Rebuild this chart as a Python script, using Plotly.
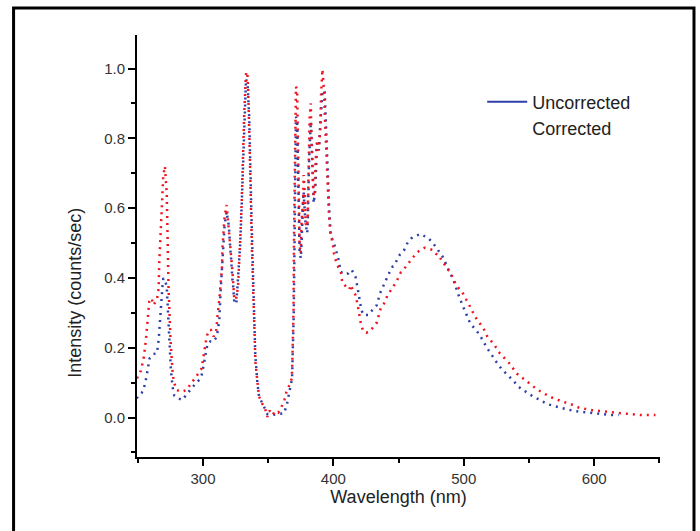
import plotly.graph_objects as go

# ---- data ----
wl_uncorrected = [249.2, 250.9, 252.9, 254.7, 256.2, 257.5, 259.1, 262.0, 264.7, 266.0, 266.4, 267.6, 268.0,
                  269.1, 269.6, 270.8, 272.2, 272.6, 273.7, 274.1, 275.0, 275.4, 276.7, 278.0, 281.0, 284.1,
                  288.2, 290.0, 291.8, 294.5, 297.2, 299.0, 300.5, 302.0, 303.6, 305.5, 307.9, 310.7, 312.1,
                  312.5, 313.5, 314.6, 315.0, 316.2, 316.6, 318.1, 319.5, 319.9, 321.0, 321.4, 322.6, 323.0,
                  323.8, 324.2, 325.6, 327.1, 328.6, 330.0, 331.4, 333.0, 334.3, 335.5, 337.3, 338.9, 340.1,
                  341.7, 343.0, 346.3, 349.4, 353.5, 357.8, 362.2, 364.5, 366.8, 368.3, 369.6, 370.9, 371.3,
                  372.2, 372.6, 373.7, 374.1, 375.0, 375.4, 376.8, 377.2, 378.3, 378.7, 379.9, 380.3, 381.4,
                  381.8, 382.7, 383.1, 384.5, 384.9, 385.8, 386.2, 387.5, 388.8, 390.3, 391.6, 393.3, 394.9,
                  396.2, 396.6, 397.5, 397.9, 400.5, 402.6, 404.1, 405.6, 408.5, 411.5, 412.8, 414.1, 415.4,
                  416.9, 418.4, 419.2, 420.0, 421.5, 423.1, 426.9, 428.7, 430.7, 433.3, 435.8, 437.1, 438.9,
                  441.5, 443.5, 445.3, 446.8, 449.1, 451.2, 454.3, 456.3, 459.6, 462.7, 467.1, 470.2, 473.3,
                  476.4, 479.0, 481.9, 484.0, 486.5, 489.4, 491.6, 493.6, 496.0, 498.5, 502.4, 504.9, 510.0,
                  514.6, 517.2, 521.0, 524.9, 529.2, 532.5, 537.7, 542.0, 548.4, 552.8, 558.6, 564.5, 573.5,
                  579.1, 585.5, 597.0, 605.0, 612.4, 618.8]
int_uncorrected = [0.055, 0.065, 0.070, 0.084, 0.108, 0.141, 0.170, 0.182, 0.184, 0.222, 0.246, 0.299, 0.327,
                   0.385, 0.399, 0.395, 0.375, 0.342, 0.265, 0.227, 0.170, 0.136, 0.088, 0.063, 0.055, 0.050,
                   0.070, 0.079, 0.087, 0.098, 0.108, 0.122, 0.150, 0.184, 0.213, 0.218, 0.217, 0.232, 0.265,
                   0.280, 0.360, 0.432, 0.450, 0.537, 0.552, 0.590, 0.556, 0.547, 0.480, 0.466, 0.394, 0.385,
                   0.340, 0.327, 0.327, 0.400, 0.500, 0.640, 0.820, 0.970, 0.950, 0.856, 0.560, 0.320, 0.180,
                   0.100, 0.060, 0.035, 0.010, 0.008, 0.010, 0.012, 0.040, 0.085, 0.112, 0.294, 0.847, 0.862,
                   0.850, 0.767, 0.490, 0.475, 0.456, 0.480, 0.623, 0.647, 0.575, 0.556, 0.528, 0.547, 0.738,
                   0.767, 0.848, 0.815, 0.661, 0.614, 0.642, 0.661, 0.786, 0.766, 0.860, 0.930, 0.938, 0.766,
                   0.623, 0.614, 0.552, 0.523, 0.499, 0.475, 0.451, 0.418, 0.410, 0.413, 0.420, 0.423, 0.413,
                   0.404, 0.375, 0.356, 0.335, 0.308, 0.294, 0.294, 0.303, 0.310, 0.322, 0.356, 0.367, 0.382,
                   0.408, 0.420, 0.432, 0.436, 0.454, 0.468, 0.480, 0.497, 0.513, 0.520, 0.526, 0.518, 0.512,
                   0.500, 0.485, 0.469, 0.460, 0.439, 0.413, 0.400, 0.375, 0.351, 0.327, 0.294, 0.270, 0.248,
                   0.222, 0.203, 0.180, 0.160, 0.138, 0.126, 0.107, 0.088, 0.072, 0.061, 0.050, 0.038, 0.029,
                   0.023, 0.018, 0.014, 0.010, 0.007, 0.007]

wl_corrected = [249.5, 250.4, 252.4, 253.4, 254.7, 256.2, 257.5, 258.8, 260.6, 261.9, 264.7, 266.0, 266.4,
                267.6, 268.0, 269.1, 269.5, 270.8, 272.2, 272.6, 273.2, 273.6, 274.7, 275.1, 276.5, 276.8,
                278.0, 279.8, 283.5, 287.4, 289.2, 291.3, 293.1, 296.0, 299.0, 300.2, 302.8, 304.6, 306.1,
                308.2, 310.2, 311.2, 312.5, 314.6, 315.0, 316.2, 316.6, 318.1, 319.4, 321.0, 321.4, 322.6,
                323.0, 324.0, 325.3, 326.9, 327.3, 328.4, 328.8, 329.7, 330.1, 331.2, 331.6, 332.8, 333.2,
                334.1, 334.5, 335.3, 335.7, 337.1, 337.5, 338.7, 339.1, 340.0, 340.3, 341.6, 341.9, 343.0,
                346.3, 347.6, 349.4, 351.0, 353.5, 355.0, 357.8, 359.1, 360.9, 362.4, 364.0, 366.5, 368.1,
                368.5, 369.4, 369.8, 370.9, 371.3, 372.2, 372.6, 373.7, 374.1, 375.0, 375.4, 376.8, 377.2,
                378.3, 378.7, 379.9, 380.3, 381.4, 381.8, 382.7, 383.1, 384.5, 384.9, 385.8, 386.2, 387.5,
                388.8, 390.1, 390.5, 391.6, 392.9, 393.3, 394.7, 395.1, 396.2, 396.6, 397.7, 399.5, 400.5,
                402.1, 403.9, 405.7, 406.9, 409.5, 412.3, 413.1, 414.5, 416.9, 418.4, 420.0, 421.3, 423.1,
                425.1, 427.5, 430.0, 433.3, 436.3, 438.9, 441.5, 444.8, 448.6, 451.7, 454.3, 457.6, 460.9,
                464.0, 467.0, 469.9, 473.0, 476.3, 478.8, 481.4, 483.2, 485.0, 487.0, 489.6, 492.1, 495.0,
                498.5, 502.4, 504.9, 508.0, 511.0, 514.6, 518.2, 522.8, 527.5, 532.5, 535.1, 540.7, 543.8,
                551.0, 556.5, 562.5, 568.9, 576.5, 581.7, 588.0, 598.3, 606.0, 613.0, 621.3, 628.0, 635.4,
                641.0, 647.0]
int_corrected = [0.112, 0.122, 0.134, 0.150, 0.174, 0.222, 0.289, 0.332, 0.342, 0.322, 0.337, 0.370, 0.437,
                 0.527, 0.578, 0.661, 0.690, 0.720, 0.642, 0.566, 0.437, 0.370, 0.265, 0.222, 0.141, 0.122,
                 0.098, 0.079, 0.074, 0.079, 0.088, 0.103, 0.108, 0.125, 0.141, 0.170, 0.232, 0.251, 0.251,
                 0.232, 0.251, 0.294, 0.337, 0.432, 0.490, 0.556, 0.575, 0.609, 0.556, 0.509, 0.470, 0.418,
                 0.385, 0.340, 0.337, 0.375, 0.408, 0.485, 0.532, 0.618, 0.685, 0.805, 0.867, 0.972, 0.991,
                 0.981, 0.953, 0.848, 0.771, 0.585, 0.490, 0.342, 0.284, 0.189, 0.155, 0.108, 0.093, 0.060,
                 0.033, 0.026, 0.002, 0.020, 0.007, 0.018, 0.014, 0.022, 0.036, 0.050, 0.074, 0.095, 0.112,
                 0.155, 0.299, 0.518, 0.862, 0.948, 0.938, 0.795, 0.595, 0.494, 0.470, 0.547, 0.623, 0.695,
                 0.628, 0.556, 0.547, 0.575, 0.738, 0.862, 0.900, 0.815, 0.661, 0.633, 0.642, 0.723, 0.795,
                 0.765, 0.838, 0.919, 0.998, 0.934, 0.881, 0.757, 0.700, 0.623, 0.580, 0.530, 0.499, 0.470,
                 0.447, 0.430, 0.418, 0.385, 0.375, 0.367, 0.380, 0.370, 0.351, 0.327, 0.289, 0.265, 0.246,
                 0.243, 0.245, 0.258, 0.272, 0.313, 0.327, 0.350, 0.370, 0.391, 0.416, 0.426, 0.442, 0.459,
                 0.473, 0.480, 0.486, 0.484, 0.480, 0.469, 0.465, 0.446, 0.440, 0.427, 0.418, 0.395, 0.375,
                 0.362, 0.332, 0.317, 0.294, 0.275, 0.260, 0.231, 0.212, 0.185, 0.165, 0.155, 0.126, 0.117,
                 0.095, 0.080, 0.067, 0.055, 0.045, 0.039, 0.029, 0.021, 0.018, 0.015, 0.012, 0.009, 0.007,
                 0.007, 0.007]

series_names = ["Uncorrected", "Corrected"]
x_tickvals = [300, 400, 500, 600]
x_ticktext = ["300", "400", "500", "600"]
y_tickvals = [0.0, 0.2, 0.4, 0.6, 0.8, 1.0]
y_ticktext = ["0.0", "0.2", "0.4", "0.6", "0.8", "1.0"]

BLUE = "#2f3fa8"
RED = "#f0141e"
FONT = "Liberation Sans, Arial, sans-serif"

fig = go.Figure()
fig.add_trace(go.Scatter(x=wl_uncorrected, y=int_uncorrected, mode="lines", showlegend=False,
                         line=dict(color=BLUE, width=2.5, dash="2px,5px")))
fig.add_trace(go.Scatter(x=wl_corrected, y=int_corrected, mode="lines", showlegend=False,
                         line=dict(color=RED, width=2.5, dash="2px,5px")))
# legend entries
fig.add_trace(go.Scatter(x=[None], y=[None], mode="lines", name=series_names[0],
                         line=dict(color=BLUE, width=2)))
fig.add_trace(go.Scatter(x=[None], y=[None], mode="lines", name=series_names[1],
                         line=dict(color="rgba(0,0,0,0)", width=2)))

fig.update_layout(
    width=700, height=531,
    margin=dict(l=137, r=40, t=35, b=74),
    paper_bgcolor="white", plot_bgcolor="white",
    font=dict(family=FONT, size=15, color="#333"),
    legend=dict(x=0.66, y=0.885, xanchor="left", yanchor="top", bgcolor="rgba(0,0,0,0)",
                font=dict(size=18, color="#222"), itemwidth=40, tracegroupgap=0),
    xaxis=dict(range=[249.4, 650.5], showgrid=False, zeroline=False,
               showline=True, linecolor="black", linewidth=2,
               ticks="outside", ticklen=7, tickwidth=2, tickcolor="black",
               tickvals=x_tickvals, ticktext=x_ticktext,
               minor=dict(ticks="outside", ticklen=4, tickwidth=2, tickcolor="black", dtick=50, tick0=250),
               title=dict(text="Wavelength (nm)", font=dict(size=18, color="#222"), standoff=2)),
    yaxis=dict(range=[-0.113, 1.096], showgrid=False, zeroline=False,
               showline=True, linecolor="black", linewidth=2,
               ticks="outside", ticklen=7, tickwidth=2, tickcolor="black",
               tickvals=y_tickvals, ticktext=y_ticktext,
               minor=dict(ticks="outside", ticklen=4, tickwidth=2, tickcolor="black", dtick=0.1, tick0=0)),
    annotations=[dict(text="Intensity (counts/sec)", textangle=-90, xref="paper", yref="paper",
                      x=-0.118, y=0.39, xanchor="center", yanchor="middle", showarrow=False,
                      font=dict(size=18, color="#222"))],
    shapes=[dict(type="rect", xref="paper", yref="paper",
                 x0=-0.236, x1=1.065, y0=-0.25, y1=1.064,
                 line=dict(color="black", width=3), fillcolor="rgba(0,0,0,0)", layer="above")],
)

fig.write_html("out.html")
